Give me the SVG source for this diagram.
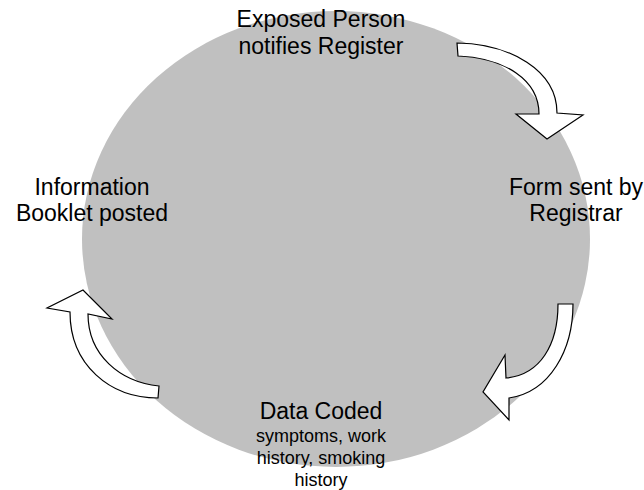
<svg xmlns="http://www.w3.org/2000/svg" width="644" height="490" viewBox="0 0 644 490">
  <style>
    .label { font-family: "Liberation Sans", Arial, sans-serif; font-size: 23px; fill: #000; text-anchor: middle; }
    .small { font-family: "Liberation Sans", Arial, sans-serif; font-size: 18px; fill: #000; text-anchor: middle; }
    .arrow { fill: #fff; stroke: #000; stroke-width: 1.2; stroke-linejoin: miter; }
  </style>

  <!-- grey cycle backdrop -->
  <ellipse id="cycle" cx="336" cy="239" rx="254" ry="228" fill="#c0c0c0"/>

  <!-- curved block arrows between the stages -->
  <g id="connectors">
    <path class="arrow" d="M457,43 C510,44 557,70 557,113 L583,115 L547,139 L516,114 L539,114 C539,80 505,58 458,56 Z"/>
    <path class="arrow" d="M558,304 L573,304 C573,350 550,392 509,398 L509,420 L483,392 L505,355 L506,378 C540,375 558,345 558,304 Z"/>
    <path class="arrow" d="M70,312 C70,365 110,398 158,398 L159,386 C120,382 88,355 88,314 L112,319 L83,290 L47,308 Z"/>
  </g>

  <g id="node-notify">
    <text class="label" x="321" y="27">Exposed Person</text>
    <text class="label" x="321" y="53.5">notifies Register</text>
  </g>

  <g id="node-form">
    <text class="label" x="576" y="195">Form sent by</text>
    <text class="label" x="576" y="221">Registrar</text>
  </g>

  <g id="node-coded">
    <text class="label" x="321" y="419">Data Coded</text>
    <text class="small" x="321" y="441.5">symptoms, work</text>
    <text class="small" x="321" y="463.5">history, smoking</text>
    <text class="small" x="321" y="485.5">history</text>
  </g>

  <g id="node-booklet">
    <text class="label" x="92" y="195">Information</text>
    <text class="label" x="92" y="221">Booklet posted</text>
  </g>
</svg>
